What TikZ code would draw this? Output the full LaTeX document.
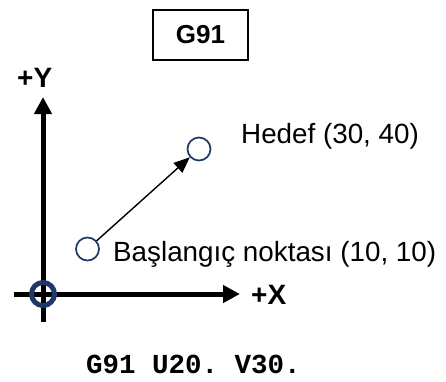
\documentclass[tikz,border=0pt]{standalone}
\usepackage{fontspec}
\setmainfont{Liberation Sans}
\setmonofont{Liberation Mono}
\usetikzlibrary{arrows.meta,positioning}
\definecolor{navy}{HTML}{1F3864}

\begin{document}
\begin{tikzpicture}[
 x=1pt,y=-1pt,
 gbox/.style={draw,line width=2pt,minimum width=95pt,minimum height=50pt,inner sep=0pt,font=\fontsize{26}{30}\selectfont\bfseries},
 spot/.style={circle,draw=navy,line width=1.7pt,minimum size=23pt,inner sep=0pt},
 axisline/.style={-{Triangle[length=17pt,width=17pt]},line width=5pt},
 axlabel/.style={anchor=base west,inner sep=0pt,font=\fontsize{28}{32}\selectfont\bfseries},
 note/.style={anchor=base west,inner sep=0pt,font=\fontsize{27.8}{32}\selectfont},
 move/.style={-{Triangle[length=16pt,width=13pt]},line width=1.4pt}
]
\useasboundingbox (0,0) rectangle (446,381);
\node[gbox] (mode) at (200.5,35) {G91};
\coordinate (xfrom) at (14,294);
\coordinate (xto) at (240,294);
\coordinate (yfrom) at (43,322);
\coordinate (yto) at (43,97);
\draw[axisline] (xfrom) -- (xto);
\draw[axisline] (yfrom) -- (yto);
\node[spot,line width=5pt] (origin) at (43,294) {};
\node[spot] (start) at (87.5,249) {};
\node[spot] (target) at (199,149) {};
\draw[move] (start) -- (target);
\node[axlabel] (ylab) at (17,87) {+Y};
\node[axlabel] (xlab) at (251,304) {+X};
\node[note] (tlab) at (241,143) {Hedef (30, 40)};
\node[note] (slab) at (113,261) {Başlangıç noktası (10, 10)};
\node[anchor=base west,inner sep=0pt,font=\fontsize{27.5}{30}\selectfont\ttfamily\bfseries] (code) at (86,373) {G91 U20. V30.};
\end{tikzpicture}
\end{document}
